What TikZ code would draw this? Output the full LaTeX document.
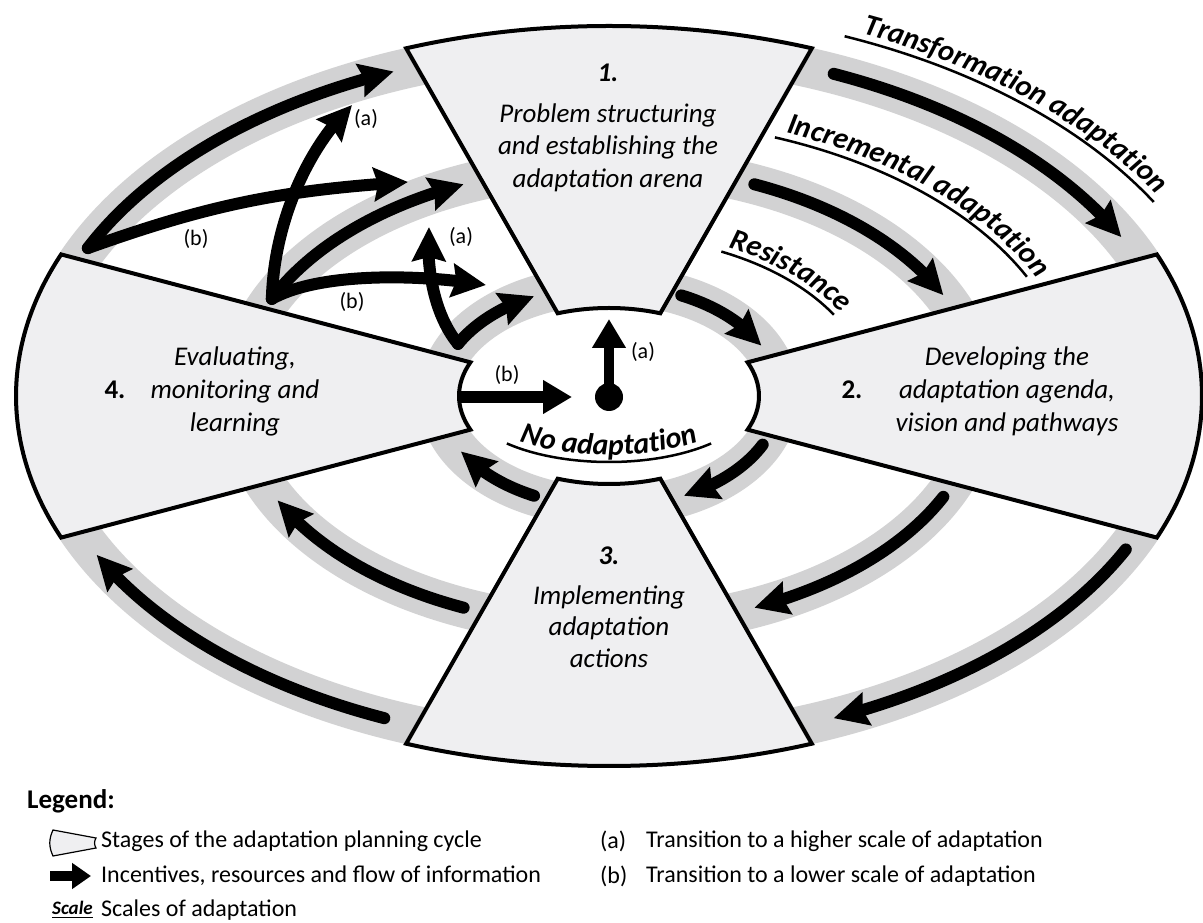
\documentclass[tikz,border=0pt]{standalone}
\usepackage{fontspec}
\setmainfont{Carlito}
\usetikzlibrary{arrows.meta,bending,calc,decorations.text}

\definecolor{stagefill}{RGB}{239,239,241}
\definecolor{bandgray}{RGB}{210,210,211}

\newcommand{\stagetxt}{\fontsize{27}{33}\selectfont\itshape}
\newcommand{\stagenum}{\fontsize{27}{33}\selectfont\bfseries}
\newcommand{\scalelbl}{\fontsize{30}{36}\selectfont\bfseries\itshape}
\newcommand{\tagtxt}{\fontsize{22}{26}\selectfont}
\newcommand{\legtxt}{\fontsize{24}{28}\selectfont}

% arrow running along one ring: radii, start angle, end angle
\newcommand{\ringarrow}[4]{%
  \draw[flowarrow] ($(C)+(#3:#1 and #2)$)
    arc[start angle=#3, end angle=#4, x radius=#1, y radius=#2];}
% one stage of the cycle between two angles
\newcommand{\stagesector}[2]{%
  \path[stagebox] ($(C)+(#1:593 and 370)$)
    arc[start angle=#1, end angle=#2, x radius=593, y radius=370]
    -- ($(C)+(#2:150 and 88)$)
    arc[start angle=#2, end angle=#1, x radius=150, y radius=88] -- cycle;}
% curved, underlined scale name
\newcommand{\scalename}[9]{%
  \path[decorate, decoration={text along path, text align=center,
      text={|\scalelbl|#1}}]
    ($(C)+(#4:#2 and #3)$) arc[start angle=#4, end angle=#5, x radius=#2, y radius=#3];
  \draw[line width=2.5pt] ($(C)+(#8:#6 and #7)$)
    arc[start angle=#8, end angle=#9, x radius=#6, y radius=#7];}

\begin{document}
\begin{tikzpicture}[x=1pt, y=1pt,
  bandring/.style={draw=bandgray, line width=40pt},
  stagebox/.style={fill=stagefill, draw=black, line width=4pt, line join=miter},
  flowarrow/.style={draw=black, line width=12pt, line cap=round,
    -{Stealth[length=34pt, width=33pt, inset=4pt]}},
  centerarrow/.style={draw=black, line width=11pt,
    -{Triangle[length=29pt, width=32pt]}},
  tagtext/.style={font=\tagtxt, inner sep=0pt},
  stageline/.style={font=\stagetxt, anchor=base, inner sep=0pt},
  legendline/.style={font=\legtxt, anchor=west, inner sep=0pt}]

\useasboundingbox (0,0) rectangle (1203,922);
\coordinate (C) at (609,526);

% grey rings: transformation, incremental, resistance
\draw[bandring] (C) ellipse [x radius=575, y radius=350];
\draw[bandring] (C) ellipse [x radius=372, y radius=230];
\draw[bandring] (C) ellipse [x radius=171, y radius=111];

% the four stages
\stagesector{70}{110}
\stagesector{-22.5}{22.5}
\stagesector{250}{290}
\stagesector{157.5}{202.5}

% flows along the rings (clockwise)
\ringarrow{575}{350}{67}{27}
\ringarrow{575}{350}{-26}{-67}
\ringarrow{575}{350}{247}{207}
\ringarrow{575}{350}{155}{112}
\ringarrow{372}{230}{67}{26}
\ringarrow{372}{230}{-26}{-67}
\ringarrow{372}{230}{247}{207}
\ringarrow{372}{230}{155}{113}
\ringarrow{171}{111}{65}{27}
\ringarrow{171}{111}{-26}{-64}
\ringarrow{171}{111}{244}{210}
\ringarrow{171}{111}{152}{116}

% transitions between scales
\coordinate (PT) at ($(C)+(155:575 and 350)$);
\coordinate (PI) at ($(C)+(155:372 and 230)$);
\coordinate (PR) at ($(C)+(152:171 and 111)$);
\coordinate (bOneTip) at (408,740);
\coordinate (aOneTip) at (352,817);
\coordinate (bTwoTip) at (486,637);
\coordinate (aTwoTip) at (429,695);
\draw[flowarrow] (PT) to[bend left=8] (bOneTip);
\draw[flowarrow] (PI) .. controls (274,700) and (308,775) .. (aOneTip);
\draw[flowarrow] (PI) .. controls (320,650) and (420,648) .. (bTwoTip);
\draw[flowarrow] (PR) .. controls (432,610) and (426,660) .. (aTwoTip);

% no adaptation centre
\coordinate (holeW) at ($(C)+(180:150 and 88)$);
\coordinate (bCentreTip) at (572,525);
\coordinate (aCentreTip) at (609,603);
\node[circle, fill=black, minimum size=28pt, inner sep=0pt] (dot) at (609,525) {};
\draw[centerarrow, line width=12pt] (holeW |- bCentreTip) -- (bCentreTip);
\draw[centerarrow, line width=10pt] (dot.center) -- (aCentreTip);

% transition tags
\node[tagtext] (ta1) at (366,803) {(a)};
\node[tagtext] (tb1) at (196,683) {(b)};
\node[tagtext] (tb2) at (352,620) {(b)};
\node[tagtext] (ta2) at (461,685) {(a)};
\node[tagtext] (tb3) at (507,547) {(b)};
\node[tagtext] (ta3) at (643,570) {(a)};

% scale names
\scalename{Transformation adaptation}{636}{395}{75}{19}{629}{388}{68}{30}
\scalename{Incremental adaptation}{470}{284}{73}{17}{463}{277}{69}{25.5}
\scalename{Resistance}{267}{166}{70}{21}{261}{160}{64.5}{30.5}
\scalename{No adaptation}{140}{59}{200}{340}{147}{66}{226}{314}

% stage texts
\node[stageline, font=\stagenum\itshape] (s1num) at (608,840) {1.};
\node[stageline] (s1a) at (608,799) {Problem structuring};
\node[stageline] (s1b) at (608,767) {and establishing the};
\node[stageline] (s1c) at (608,734) {adaptation arena};

\node[stageline] (s2a) at (1007,556) {Developing the};
\node[stageline] (s2b) at (1007,523) {adaptation agenda,};
\node[stageline] (s2c) at (1007,490) {vision and pathways};
\node[stageline, font=\stagenum] (s2num) at (852,523) {2.};

\node[stageline, font=\stagenum\itshape] (s3num) at (609,357) {3.};
\node[stageline] (s3a) at (609,317) {Implementing};
\node[stageline] (s3b) at (609,286) {adaptation};
\node[stageline] (s3c) at (609,254) {actions};

\node[stageline] (s4a) at (235,556) {Evaluating,};
\node[stageline] (s4b) at (235,523) {monitoring and};
\node[stageline] (s4c) at (235,490) {learning};
\node[stageline, font=\stagenum] (s4num) at (115,523) {4.};

% legend
\node[anchor=west, inner sep=0pt, font=\fontsize{27}{32}\selectfont\bfseries] (legtitle) at (27,121) {Legend:};
\path[draw=black, fill=stagefill, line width=1.2pt]
  (53,92) -- (96,84) to[bend right=30] (96,74) -- (53,66) to[bend left=25] (53,92) -- cycle;
\node[legendline] (leg1) at (101,81) {Stages of the adaptation planning cycle};
\coordinate (legArrS) at (50,46);
\coordinate (legArrE) at (91,46);
\draw[line width=10pt, -{Triangle[length=19pt, width=25pt]}] (legArrS) -- (legArrE);
\node[legendline] (leg2) at (101,46) {Incentives, resources and flow of information};
\node[anchor=west, inner sep=0pt, font=\fontsize{19}{22}\selectfont\bfseries\itshape] (leg3key) at (52,14) {Scale};
\draw[line width=1.8pt] ([yshift=-3pt]leg3key.base west) -- ([yshift=-3pt]leg3key.base east);
\node[legendline] (leg3) at (101,12) {Scales of adaptation};
\node[legendline] (leg4key) at (600,81) {(a)};
\node[legendline] (leg4) at (646,81) {Transition to a higher scale of adaptation};
\node[legendline] (leg5key) at (600,46) {(b)};
\node[legendline] (leg5) at (646,46) {Transition to a lower scale of adaptation};

\end{tikzpicture}
\end{document}
